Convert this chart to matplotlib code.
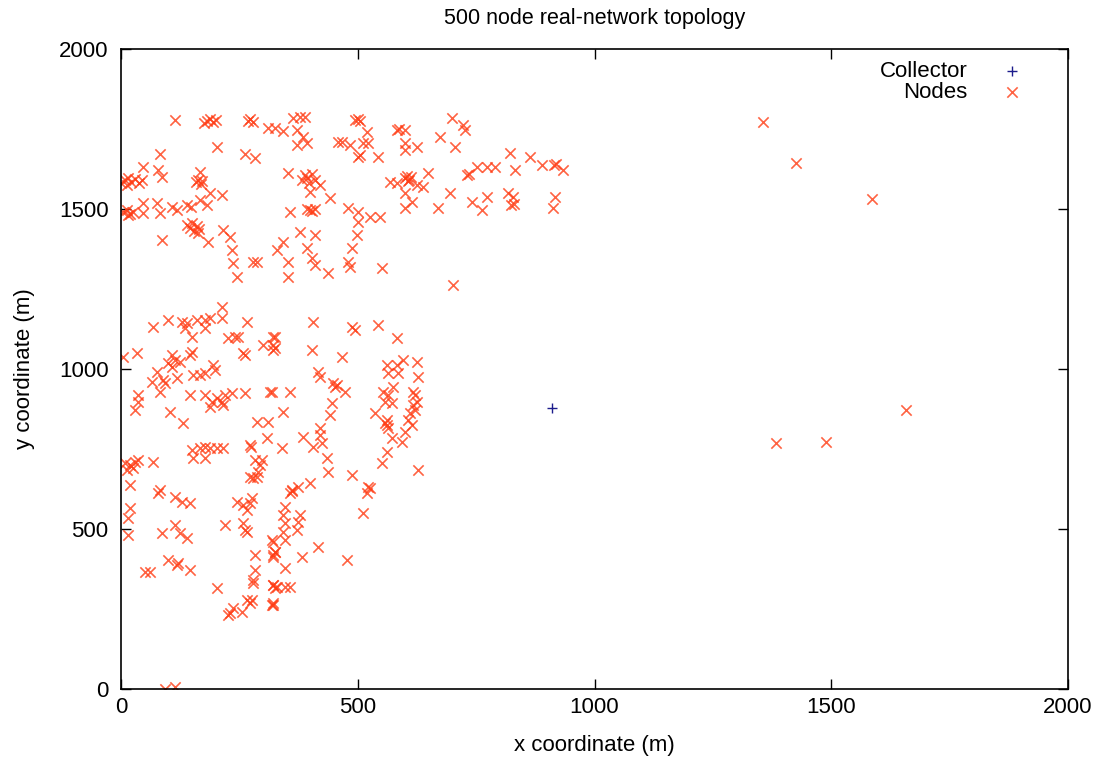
import matplotlib
matplotlib.use("Agg")
import matplotlib.pyplot as plt

plt.rcParams['font.family'] = ['Liberation Sans', 'DejaVu Sans']

# sink position
collector_x = [910]
collector_y = [878]

# sensor node positions (m), upper block
upper_x = [114, 175, 182, 188, 195, 200, 268, 272, 278, 311, 325, 342, 363, 378, 389,
           372, 385, 372, 393, 458, 203, 82, 262, 283, 46, 78, 87,
           0, 8, 15, 22, 30, 38, 45, 12, 167, 158, 163, 168, 172, 188, 213, 167, 181,
           5, 12, 18, 25, 15, 46, 46, 76, 82, 108, 118, 139, 148,
           140, 146, 150, 155, 160, 165, 163, 87, 184, 215, 230, 234, 237, 245, 287, 279,
           329, 342, 353, 353, 378, 393, 410, 403, 410, 437, 357, 392, 399, 404, 410,
           441, 353, 382, 388, 393, 398, 404, 410, 420, 399,
           495, 500, 505, 519, 467, 484, 511, 522, 500, 505, 543, 583, 588, 600, 600, 600,
           625, 674, 699, 722, 726, 705, 822, 864, 889, 914, 919, 934, 832, 752, 773, 790,
           730, 736, 600, 604, 608, 612, 606, 568, 583, 625, 638, 648, 600, 615, 600, 695,
           669, 741, 773, 762, 817, 828, 824, 829, 917, 912, 479, 500, 500, 526, 547, 498,
           488, 479, 484, 551, 701, 1356, 1426, 1586]
upper_y = [1778, 1770, 1775, 1780, 1772, 1778, 1775, 1780, 1772, 1753, 1753, 1744, 1784, 1787, 1787,
           1747, 1725, 1700, 1706, 1709, 1694, 1672, 1672, 1659, 1631, 1622, 1600,
           1580, 1590, 1598, 1585, 1594, 1582, 1590, 1575, 1616, 1584, 1590, 1578, 1586, 1550, 1544, 1528, 1512,
           1490, 1497, 1484, 1492, 1480, 1519, 1487, 1519, 1487, 1506, 1497, 1512, 1505,
           1450, 1440, 1455, 1432, 1446, 1438, 1425, 1403, 1397, 1434, 1412, 1372, 1331, 1288, 1334, 1334,
           1372, 1397, 1334, 1288, 1428, 1378, 1419, 1347, 1325, 1300, 1491, 1500, 1497, 1493, 1500,
           1534, 1612, 1590, 1605, 1597, 1582, 1610, 1592, 1575, 1553,
           1778, 1782, 1774, 1740, 1709, 1700, 1706, 1706, 1663, 1668, 1663, 1747, 1750, 1747, 1706, 1684,
           1694, 1725, 1784, 1762, 1747, 1694, 1675, 1663, 1637, 1637, 1640, 1622, 1622, 1631, 1631, 1631,
           1606, 1610, 1597, 1604, 1592, 1600, 1588, 1584, 1581, 1575, 1569, 1612, 1550, 1522, 1503, 1550,
           1503, 1522, 1537, 1497, 1550, 1537, 1512, 1515, 1537, 1503, 1503, 1491, 1459, 1475, 1475, 1419,
           1378, 1334, 1319, 1316, 1262, 1772, 1644, 1531]

# sensor node positions (m), lower block
lower_x = [213, 213, 68, 99, 129, 139, 135, 150, 160, 177, 188, 177, 266, 226, 241, 247,
           300, 321, 325, 4, 34, 108, 114, 125, 99, 108, 146, 150, 258, 262, 194, 199,
           152, 167, 177, 118, 76, 65, 89, 82, 93, 36, 36, 30, 146,
           177, 192, 203, 188, 213, 220, 234, 215, 262, 315, 103, 131, 287, 310, 308,
           150, 152, 167, 177, 188, 203, 215, 177, 68, 8, 19, 30, 36, 13, 25, 19, 82,
           272, 275, 283, 298, 294, 272, 279, 287, 289,
           405, 488, 494, 543, 583, 325, 321, 321, 403, 467,
           562, 564, 583, 585, 596, 625, 627, 416, 420, 448, 452, 456, 473, 357, 319,
           553, 564, 558, 572, 574, 617, 621, 625, 617, 621, 610, 606, 615, 446, 441, 536, 342,
           562, 562, 564, 558, 572, 593, 600, 384, 405, 420, 420, 424, 340, 562, 551,
           435, 437, 488, 627, 399, 374, 361, 522, 526,
           78, 114, 129, 146, 19, 15, 15, 87, 114, 125, 139, 99, 118, 120, 146, 51, 61, 203,
           245, 258, 266, 272, 277, 220, 258, 262, 266, 319, 283, 283, 279, 279, 321, 325,
           321, 325, 319, 321, 266, 277, 272, 230, 226, 256, 237, 93, 114,
           357, 362, 519, 511, 346, 342, 346, 342, 378, 374, 372, 346, 321, 325, 321, 416,
           382, 477, 346, 321, 329, 346, 357, 321, 1658, 1383, 1489]
lower_y = [1194, 1159, 1131, 1153, 1147, 1144, 1128, 1100, 1153, 1153, 1159, 1128, 1147, 1097, 1100, 1100,
           1075, 1100, 1066, 1037, 1050, 1044, 1028, 1022, 1019, 1006, 1044, 1053, 1050, 1044, 1012, 997,
           981, 981, 988, 972, 991, 959, 966, 928, 956, 919, 897, 872, 919,
           919, 897, 909, 881, 897, 919, 925, 887, 925, 928, 866, 831, 834, 834, 784,
           747, 722, 753, 756, 753, 753, 753, 722, 709, 706, 700, 709, 716, 684, 691, 637, 622,
           762, 757, 716, 716, 700, 662, 659, 662, 678,
           1147, 1131, 1122, 1138, 1097, 1100, 1075, 1059, 1059, 1037,
           1012, 988, 1012, 988, 1028, 1022, 975, 991, 975, 956, 944, 950, 928, 928, 928,
           928, 919, 897, 894, 944, 928, 919, 897, 887, 872, 862, 841, 825, 894, 856, 862, 866,
           841, 825, 816, 831, 784, 772, 803, 788, 756, 816, 794, 769, 753, 741, 706,
           722, 678, 669, 684, 644, 631, 622, 631, 628,
           612, 600, 584, 581, 566, 534, 481, 487, 512, 487, 472, 403, 387, 394, 372, 366, 366, 316,
           584, 575, 559, 581, 597, 512, 519, 497, 491, 466, 419, 372, 341, 331, 419, 428,
           325, 316, 262, 269, 278, 278, 269, 237, 231, 241, 253, 0, 6,
           612, 618, 612, 550, 569, 544, 519, 491, 544, 522, 497, 466, 459, 428, 412, 444,
           412, 403, 378, 325, 319, 319, 319, 262, 872, 769, 772]

node_x = upper_x + lower_x
node_y = upper_y + lower_y

fig = plt.figure(figsize=(11.04, 7.61), dpi=100)
ax = fig.add_axes([0.1096, 0.0946, 0.8578, 0.841])

ax.scatter(collector_x, collector_y, marker='+', s=60, color='#1c1c8c',
           linewidths=1.0, label='Collector', zorder=3)
ax.scatter(node_x, node_y, marker='x', s=55, color='#ff3c14', alpha=0.8,
           linewidths=1.2, label='Nodes', zorder=2)

ax.set_xlim(0, 2000)
ax.set_ylim(0, 2000)
ax.set_xticks([0, 500, 1000, 1500, 2000])
ax.set_yticks([0, 500, 1000, 1500, 2000])
ax.tick_params(direction='in', length=7, width=1, top=True, right=True,
               labelsize=16)
ax.tick_params(axis='x', pad=6)
ax.tick_params(axis='y', pad=9)
for sp in ax.spines.values():
    sp.set_linewidth(1.2)

ax.set_title('500 node real-network topology', fontsize=15.5, pad=18)
ax.set_xlabel('x coordinate (m)', fontsize=16, labelpad=12)
ax.set_ylabel('y coordinate (m)', fontsize=16, labelpad=17)

ax.legend(loc='upper right', frameon=False, markerfirst=False, fontsize=16,
          handletextpad=1.0, labelspacing=0.0, borderaxespad=0.5,
          bbox_to_anchor=(0.985, 1.013))

fig.savefig('out.png', dpi=100)
